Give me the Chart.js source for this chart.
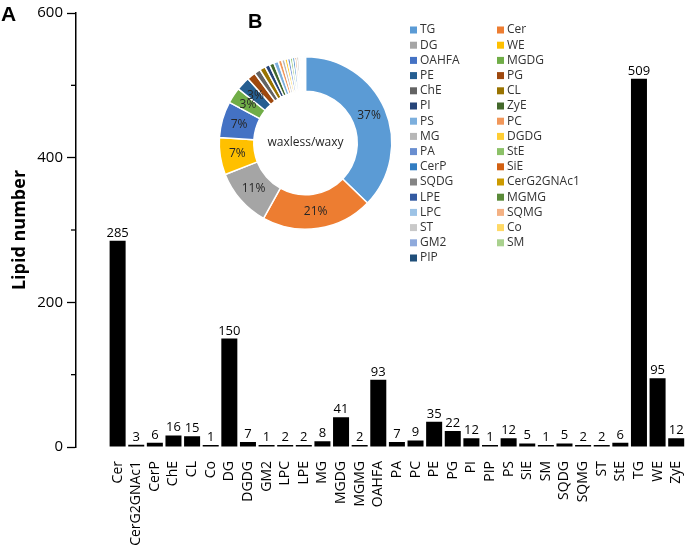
<!DOCTYPE html>
<html>
<head>
<meta charset="utf-8">
<script src="https://cdn.jsdelivr.net/npm/chart.js@4.4.1/dist/chart.umd.min.js"></script>
<style>
  html, body { margin: 0; padding: 0; background: #fff; }
  #wrap { position: relative; width: 699px; height: 548px; }
  #barChart { position: absolute; left: 0; top: 0; }
  #pieChart { position: absolute; left: 200px; top: 0; pointer-events: none; }
</style>
</head>
<body>
<div id="wrap">
  <canvas id="barChart" width="699" height="548"></canvas>
  <canvas id="pieChart" width="440" height="280"></canvas>
</div>
<script>
const categories = ['Cer', 'CerG2GNAc1', 'CerP', 'ChE', 'CL', 'Co', 'DG', 'DGDG', 'GM2', 'LPC', 'LPE', 'MG', 'MGDG', 'MGMG', 'OAHFA',
    'PA', 'PC', 'PE', 'PG', 'PI', 'PIP', 'PS', 'SiE', 'SM', 'SQDG', 'SQMG', 'ST', 'StE', 'TG', 'WE', 'ZyE'];
const lipidCounts = [285, 3, 6, 16, 15, 1, 150, 7, 1, 2, 2, 8, 41, 2, 93,
    7, 9, 35, 22, 12, 1, 12, 5, 1, 5, 2, 2, 6, 509, 95, 12];
const yTicks = [0, 200, 400, 600];
const yMinorTicks = [100, 300, 500];

// doughnut: same classes, largest first (legend order of the original)
const pieOrder = ['TG', 'Cer', 'DG', 'WE', 'OAHFA', 'MGDG', 'PE', 'PG', 'ChE', 'CL', 'PI', 'ZyE', 'PS', 'PC', 'MG', 'DGDG',
    'PA', 'StE', 'CerP', 'SiE', 'SQDG', 'CerG2GNAc1', 'LPE', 'MGMG', 'LPC', 'SQMG', 'ST', 'Co', 'GM2', 'SM', 'PIP'];
const pieColors = ['#5B9BD5', '#ED7D31', '#A5A5A5', '#FFC000', '#4472C4', '#70AD47',
    '#255E91', '#9E480E', '#636363', '#997300', '#264478', '#43682B',
    '#7CAFDD', '#F1975A', '#B7B7B7', '#FFCD33', '#698ED0', '#8CC168',
    '#327DC2', '#D26012', '#848484', '#CC9A00', '#335AA1', '#5A8A39',
    '#9DC3E6', '#F4B183', '#C9C9C9', '#FFD966', '#8FAADC', '#A9D18E', '#1F4E79'];
const centerText = 'waxless/waxy';

const fontFamily = "'Open Sans', 'DejaVu Sans', sans-serif";

const barExtras = {
    id: 'barExtras',
    afterDatasetsDraw(chart) {
        const ctx = chart.ctx;
        const meta = chart.getDatasetMeta(0);
        ctx.save();
        ctx.font = `13px ${fontFamily}`;
        ctx.fillStyle = '#000';
        ctx.textAlign = 'center';
        ctx.textBaseline = 'alphabetic';
        meta.data.forEach((bar, i) => {
            ctx.fillText(lipidCounts[i], bar.x, bar.y - 4);
        });

        // short minor ticks on the y axis
        const y = chart.scales.y;
        ctx.strokeStyle = '#000';
        ctx.lineWidth = 1.3;
        yMinorTicks.forEach(v => {
            const py = y.getPixelForValue(v);
            ctx.beginPath();
            ctx.moveTo(y.right - 5, py);
            ctx.lineTo(y.right, py);
            ctx.stroke();
        });

        ctx.font = "bold 21px 'Liberation Sans', Arial, sans-serif";
        ctx.textAlign = 'left';
        ctx.fillText('A', 1, 21);
        ctx.restore();
    }
};

new Chart(document.getElementById('barChart'), {
    type: 'bar',
    data: {
        datasets: [{
            data: lipidCounts.map((v, i) => ({ x: i, y: v })),
            backgroundColor: '#000',
            barPercentage: 0.86,
            categoryPercentage: 1,
            minBarLength: 2
        }]
    },
    options: {
        responsive: false,
        animation: false,
        layout: { padding: { top: 12 } },
        plugins: { legend: { display: false }, tooltip: { enabled: false } },
        scales: {
            x: {
                type: 'linear',
                min: -1.7,
                max: 30.4,
                afterBuildTicks: s => { s.ticks = categories.map((c, i) => ({ value: i })); },
                afterFit: s => { s.height = 101; },
                grid: { display: false },
                border: { display: false },
                ticks: {
                    autoSkip: false,
                    maxRotation: 90,
                    minRotation: 90,
                    padding: 6,
                    color: '#000',
                    font: { family: fontFamily, size: 14 },
                    callback: v => categories[v]
                }
            },
            y: {
                min: 0,
                max: 600,
                afterBuildTicks: s => { s.ticks = yTicks.map(v => ({ value: v })); },
                afterFit: s => { s.width = 76; },
                grid: { drawOnChartArea: false, tickLength: 9, color: '#000', tickWidth: 1.3 },
                border: { color: '#000', width: 1.5 },
                ticks: { padding: 4, color: '#000', font: { family: fontFamily, size: 15 } },
                title: {
                    display: true,
                    text: 'Lipid number',
                    color: '#000',
                    font: { family: fontFamily, size: 18, weight: 'bold' },
                    padding: { top: 9, bottom: 0 }
                }
            }
        }
    },
    plugins: [barExtras]
});

const pieValues = pieOrder.map(k => lipidCounts[categories.indexOf(k)]);
const pieTotal = pieValues.reduce((a, b) => a + b, 0);

const pieExtras = {
    id: 'pieExtras',
    afterDatasetsDraw(chart) {
        const ctx = chart.ctx;
        const meta = chart.getDatasetMeta(0);
        ctx.save();
        ctx.fillStyle = '#262626';
        ctx.font = `12px ${fontFamily}`;
        ctx.textAlign = 'center';
        ctx.textBaseline = 'middle';
        meta.data.forEach((arc, i) => {
            const pct = pieValues[i] / pieTotal * 100;
            if (pct < 2.5) return;
            const p = arc.tooltipPosition();
            ctx.fillText(Math.round(pct) + '%', p.x, p.y);
        });
        ctx.fillText(centerText, meta.data[0].x, meta.data[0].y);

        // legend in two columns, filled row by row
        ctx.textAlign = 'left';
        pieOrder.forEach((name, i) => {
            const col = i % 2;
            const row = Math.floor(i / 2);
            const x = 210 + col * 87;
            const y = 30 + row * 15.2;
            ctx.fillStyle = pieColors[i];
            ctx.fillRect(x, y - 3.5, 7, 7);
            ctx.fillStyle = '#333';
            ctx.fillText(name, x + 10, y);
        });

        ctx.font = "bold 20px 'Liberation Sans', Arial, sans-serif";
        ctx.fillStyle = '#000';
        ctx.textBaseline = 'alphabetic';
        ctx.fillText('B', 48, 28);
        ctx.restore();
    }
};

new Chart(document.getElementById('pieChart'), {
    type: 'doughnut',
    data: {
        labels: pieOrder,
        datasets: [{
            data: pieValues,
            backgroundColor: pieColors,
            borderColor: '#fff',
            borderWidth: 1.5
        }]
    },
    options: {
        responsive: false,
        animation: false,
        cutout: '60%',
        layout: { padding: { left: 18.5, top: 56, right: 247.5, bottom: 50 } },
        plugins: { legend: { display: false }, tooltip: { enabled: false } }
    },
    plugins: [pieExtras]
});
</script>
</body>
</html>
